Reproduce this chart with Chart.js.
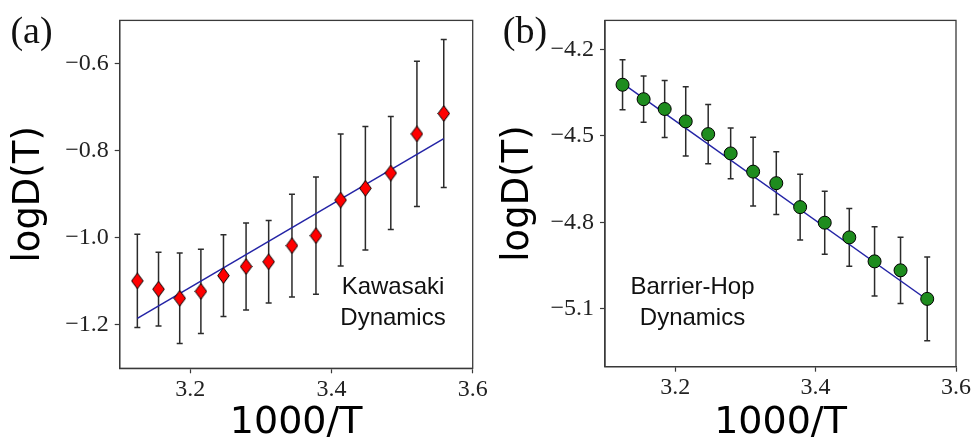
<!DOCTYPE html>
<html>
<head>
<meta charset="utf-8">
<script src="https://cdn.jsdelivr.net/npm/chart.js@4.4.1/dist/chart.umd.min.js"></script>
<style>
  html, body { margin: 0; padding: 0; background: #fff; }
  #wrap { position: relative; width: 973px; height: 444px; }
  #panelA { position: absolute; left: 0; top: 0; }
  #panelB { position: absolute; left: 490px; top: 0; }
</style>
</head>
<body>
<div id="wrap">
  <canvas id="panelA" width="490" height="444"></canvas>
  <canvas id="panelB" width="483" height="444"></canvas>
</div>
<script>
'use strict';

/****************************************************************/
/*************************** Données ****************************/
/****************************************************************/

// 1000/T, commun aux deux panneaux
var invT = [3.125, 3.155, 3.185, 3.215, 3.247, 3.279, 3.311, 3.344, 3.378, 3.413, 3.448, 3.484, 3.521, 3.559];

// (a) Kawasaki
var kawasakiLogD = [-1.099, -1.118, -1.139, -1.123, -1.087, -1.066, -1.055, -1.018, -0.995, -0.913, -0.886, -0.851, -0.761, -0.714];
var kawasakiErr = [0.107, 0.085, 0.104, 0.097, 0.094, 0.100, 0.095, 0.118, 0.135, 0.152, 0.142, 0.130, 0.167, 0.170];
var kawasakiFitX = [3.125, 3.559];
var kawasakiFitY = [-1.185, -0.772];

// (b) Barrier-Hop
var barrierLogD = [-4.323, -4.373, -4.407, -4.450, -4.494, -4.561, -4.624, -4.664, -4.747, -4.801, -4.852, -4.935, -4.966, -5.065];
var barrierErr = [0.087, 0.080, 0.099, 0.120, 0.103, 0.088, 0.119, 0.109, 0.114, 0.109, 0.100, 0.120, 0.115, 0.145];
var barrierFitX = [3.125, 3.559];
var barrierFitY = [-4.318, -5.068];

// graduations
var xTicks = [3.2, 3.4, 3.6];
var kawasakiTicks = [-1.2, -1.0, -0.8, -0.6];
var barrierTicks = [-5.1, -4.8, -4.5, -4.2];


/****************************************************************/
/*************************** Outils *****************************/
/****************************************************************/

var pts = function(xs, ys) {
  return xs.map(function(x, i) { return { x: x, y: ys[i] }; });
};

// losange rouge (un peu plus haut que large)
var diamond = (function() {
  var c = document.createElement('canvas');
  c.width = 13; c.height = 17;
  var g = c.getContext('2d');
  g.beginPath();
  g.moveTo(6.5, 0.7); g.lineTo(12.3, 8.5); g.lineTo(6.5, 16.3); g.lineTo(0.7, 8.5);
  g.closePath();
  g.fillStyle = '#ff0000';
  g.fill();
  g.lineWidth = 1;
  g.strokeStyle = '#000';
  g.stroke();
  return c;
})();

var minus = function(v) {
  return (v < 0 ? '\u2212' : '') + Math.abs(v).toFixed(1);
};

// barres d'erreur, sous les marqueurs
var errorBars = {
  id: 'errorBars',
  beforeDatasetsDraw: function(chart) {
    var ctx = chart.ctx, sx = chart.scales.x, sy = chart.scales.y;
    chart.data.datasets.forEach(function(ds) {
      if (!ds.errors) return;
      ctx.save();
      ctx.strokeStyle = '#2b2b2b';
      ctx.lineWidth = 1.5;
      ds.data.forEach(function(p, i) {
        var px = sx.getPixelForValue(p.x);
        var top = sy.getPixelForValue(p.y + ds.errors[i]);
        var bot = sy.getPixelForValue(p.y - ds.errors[i]);
        ctx.beginPath();
        ctx.moveTo(px, top); ctx.lineTo(px, bot);
        ctx.moveTo(px - 3, top); ctx.lineTo(px + 3, top);
        ctx.moveTo(px - 3, bot); ctx.lineTo(px + 3, bot);
        ctx.stroke();
      });
      ctx.restore();
    });
  }
};

// cadre, lettre du panneau, annotation
var decor = {
  id: 'decor',
  afterDraw: function(chart, args, opts) {
    var ctx = chart.ctx, a = chart.chartArea;
    ctx.save();
    ctx.strokeStyle = '#3a3a3a';
    ctx.lineWidth = 1.3;
    ctx.strokeRect(a.left, a.top, a.right - a.left, a.bottom - a.top);

    ctx.fillStyle = '#111';
    ctx.textAlign = 'center';
    ctx.textBaseline = 'middle';
    ctx.font = '38px "Liberation Serif"';
    ctx.fillText(opts.letter, opts.letterX, opts.letterY);

    ctx.font = '24px "Liberation Sans"';
    opts.note.forEach(function(t, i) {
      ctx.fillText(t, opts.noteX, opts.noteY + i * 31);
    });
    ctx.restore();
  }
};


/****************************************************************/
/********************** Création des graphes ********************/
/****************************************************************/

var buildChart = function(id, cfg) {
  return new Chart(document.getElementById(id).getContext('2d'), {
    type: 'scatter',
    data: {
      datasets: [{
        data: pts(invT, cfg.y),
        errors: cfg.err,
        pointStyle: cfg.marker,
        pointRadius: cfg.radius,
        pointBackgroundColor: cfg.fill,
        pointBorderColor: '#000',
        pointBorderWidth: 1,
        showLine: false,
        order: 0
      }, {
        type: 'line',
        data: pts(cfg.fitX, cfg.fitY),
        borderColor: '#2424a6',
        borderWidth: 1.5,
        pointRadius: 0,
        fill: false,
        order: 1
      }]
    },
    options: {
      responsive: false,
      animation: false,
      layout: { padding: { top: cfg.top, right: cfg.right, left: 0, bottom: 0 } },
      plugins: {
        legend: { display: false },
        tooltip: { enabled: false },
        decor: cfg.decor
      },
      scales: {
        x: {
          type: 'linear',
          min: 3.1,
          max: 3.6,
          afterBuildTicks: function(s) { s.ticks = xTicks.map(function(v) { return { value: v }; }); },
          afterFit: function(s) { s.height = cfg.xAxisH; },
          grid: { drawOnChartArea: false, drawTicks: true, tickLength: 5, tickColor: '#3a3a3a', tickWidth: 1.2 },
          border: { display: true, color: '#3a3a3a', width: 1.3 },
          ticks: {
            padding: 2,
            color: '#222',
            font: { family: '"Liberation Serif"', size: 24 },
            callback: function(v) { return v.toFixed(1); }
          },
          title: {
            display: true,
            text: '1000/T',
            color: '#000',
            font: { family: '"DejaVu Sans"', size: 38, lineHeight: 1 },
            padding: { top: 0, bottom: 2 }
          }
        },
        y: {
          type: 'linear',
          min: cfg.yMin,
          max: cfg.yMax,
          afterBuildTicks: function(s) { s.ticks = cfg.yTicks.map(function(v) { return { value: v }; }); },
          afterFit: function(s) { s.width = cfg.yAxisW; },
          grid: { drawOnChartArea: false, drawTicks: true, tickLength: 5, tickColor: '#3a3a3a', tickWidth: 1.2 },
          border: { display: true, color: '#3a3a3a', width: 1.3 },
          ticks: {
            padding: 6,
            color: '#222',
            font: { family: '"Liberation Serif"', size: 24 },
            callback: minus
          },
          title: {
            display: true,
            text: 'logD(T)',
            color: '#000',
            font: { family: '"DejaVu Sans"', size: 37, lineHeight: 1 },
            padding: { top: cfg.yTitlePad, bottom: 0 }
          }
        }
      }
    },
    plugins: [errorBars, decor]
  });
};

var chartA = buildChart('panelA', {
  y: kawasakiLogD, err: kawasakiErr, fitX: kawasakiFitX, fitY: kawasakiFitY,
  marker: diamond, radius: 7, fill: '#ff0000',
  yMin: -1.3, yMax: -0.5, yTicks: kawasakiTicks,
  top: 16, right: 17.3, xAxisH: 75.7, yAxisW: 119.7, yTitlePad: 11,
  decor: { letter: '(a)', letterX: 31.5, letterY: 33, note: ['Kawasaki', 'Dynamics'], noteX: 393, noteY: 287 }
});

var chartB = buildChart('panelB', {
  y: barrierLogD, err: barrierErr, fitX: barrierFitX, fitY: barrierFitY,
  marker: 'circle', radius: 6.5, fill: '#1e8c1e',
  yMin: -5.3, yMax: -4.1, yTicks: barrierTicks,
  top: 15, right: 16.3, xAxisH: 77.3, yAxisW: 115, yTitlePad: 10,
  decor: { letter: '(b)', letterX: 35, letterY: 33, note: ['Barrier-Hop', 'Dynamics'], noteX: 202.5, noteY: 287 }
});
</script>
</body>
</html>
